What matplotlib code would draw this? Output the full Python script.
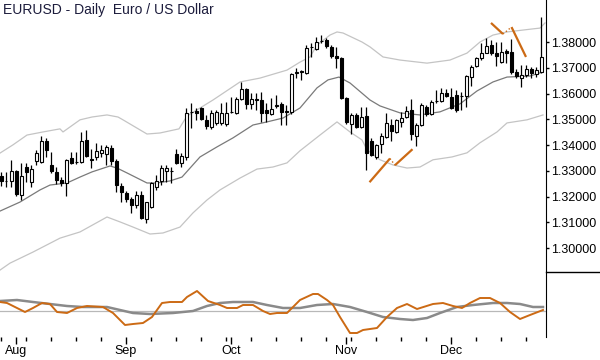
import numpy as np
import pandas as pd
import matplotlib.pyplot as plt
from matplotlib.lines import Line2D
from matplotlib.ticker import FormatStrFormatter

plt.rcParams['font.family'] = ['Liberation Sans', 'DejaVu Sans']

title = 'EURUSD - Daily  Euro / US Dollar'
# trading days shown (no bar for Christmas day)
dates = pd.bdate_range('2013-07-29', '2013-12-27').drop(pd.Timestamp('2013-12-25'))

opens = [1.3280, 1.3260, 1.3261, 1.3300, 1.3206, 1.3315, 1.3257, 1.3339, 1.3335, 1.3416,
         1.3323, 1.3296, 1.3264, 1.3253, 1.3350, 1.3333, 1.3335, 1.3420, 1.3346, 1.3354,
         1.3370, 1.3366, 1.3389, 1.3339, 1.3241, 1.3214, 1.3191, 1.3168, 1.3206, 1.3113,
         1.3160, 1.3237, 1.3261, 1.3300, 1.3298, 1.3366, 1.3331, 1.3354, 1.3527, 1.3532,
         1.3544, 1.3498, 1.3471, 1.3486, 1.3486, 1.3482, 1.3527, 1.3525, 1.3579, 1.3618,
         1.3560, 1.3577, 1.3575, 1.3536, 1.3521, 1.3552, 1.3560, 1.3532, 1.3529, 1.3680,
         1.3684, 1.3680, 1.3779, 1.3773, 1.3802, 1.3808, 1.3781, 1.3746, 1.3738, 1.3583,
         1.3482, 1.3517, 1.3471, 1.3513, 1.3416, 1.3354, 1.3405, 1.3432, 1.3478, 1.3451,
         1.3490, 1.3509, 1.3536, 1.3436, 1.3478, 1.3548, 1.3521, 1.3573, 1.3571, 1.3602,
         1.3587, 1.3594, 1.3589, 1.3591, 1.3664, 1.3707, 1.3738, 1.3757, 1.3788, 1.3757,
         1.3722, 1.3765, 1.3761, 1.3684, 1.3660, 1.3672, 1.3695, 1.3676, 1.3684]
highs = [1.3296, 1.3296, 1.3343, 1.3302, 1.3331, 1.3331, 1.3323, 1.3382, 1.3436, 1.3428,
         1.3374, 1.3315, 1.3276, 1.3345, 1.3374, 1.3374, 1.3451, 1.3459, 1.3385, 1.3409,
         1.3401, 1.3401, 1.3401, 1.3346, 1.3253, 1.3222, 1.3199, 1.3222, 1.3222, 1.3181,
         1.3257, 1.3284, 1.3323, 1.3323, 1.3315, 1.3385, 1.3370, 1.3544, 1.3563, 1.3544,
         1.3548, 1.3517, 1.3536, 1.3536, 1.3563, 1.3567, 1.3587, 1.3587, 1.3645, 1.3622,
         1.3602, 1.3602, 1.3606, 1.3563, 1.3583, 1.3594, 1.3567, 1.3556, 1.3680, 1.3699,
         1.3691, 1.3788, 1.3796, 1.3819, 1.3827, 1.3816, 1.3788, 1.3781, 1.3742, 1.3587,
         1.3525, 1.3525, 1.3548, 1.3548, 1.3428, 1.3405, 1.3447, 1.3525, 1.3501, 1.3501,
         1.3529, 1.3552, 1.3579, 1.3486, 1.3563, 1.3556, 1.3575, 1.3614, 1.3622, 1.3618,
         1.3622, 1.3614, 1.3606, 1.3672, 1.3711, 1.3742, 1.3796, 1.3816, 1.3808, 1.3800,
         1.3800, 1.3773, 1.3812, 1.3695, 1.3711, 1.3711, 1.3703, 1.3703, 1.3897]
lows = [1.3241, 1.3237, 1.3237, 1.3202, 1.3187, 1.3257, 1.3237, 1.3323, 1.3331, 1.3354,
        1.3292, 1.3249, 1.3241, 1.3202, 1.3327, 1.3327, 1.3331, 1.3354, 1.3311, 1.3343,
        1.3354, 1.3323, 1.3323, 1.3218, 1.3179, 1.3179, 1.3137, 1.3156, 1.3113, 1.3098,
        1.3156, 1.3226, 1.3245, 1.3257, 1.3253, 1.3327, 1.3315, 1.3343, 1.3467, 1.3498,
        1.3498, 1.3463, 1.3463, 1.3478, 1.3478, 1.3474, 1.3525, 1.3521, 1.3575, 1.3540,
        1.3540, 1.3536, 1.3490, 1.3490, 1.3517, 1.3544, 1.3478, 1.3478, 1.3521, 1.3660,
        1.3653, 1.3676, 1.3742, 1.3769, 1.3796, 1.3777, 1.3738, 1.3699, 1.3579, 1.3482,
        1.3443, 1.3467, 1.3467, 1.3303, 1.3358, 1.3346, 1.3370, 1.3428, 1.3416, 1.3447,
        1.3471, 1.3505, 1.3420, 1.3397, 1.3474, 1.3513, 1.3517, 1.3563, 1.3567, 1.3587,
        1.3540, 1.3529, 1.3536, 1.3548, 1.3629, 1.3703, 1.3730, 1.3757, 1.3749, 1.3707,
        1.3718, 1.3718, 1.3676, 1.3660, 1.3625, 1.3664, 1.3660, 1.3664, 1.3680]
closes = [1.3261, 1.3261, 1.3300, 1.3210, 1.3280, 1.3296, 1.3307, 1.3370, 1.3416, 1.3382,
          1.3300, 1.3264, 1.3253, 1.3343, 1.3331, 1.3335, 1.3416, 1.3358, 1.3343, 1.3378,
          1.3382, 1.3393, 1.3339, 1.3245, 1.3218, 1.3191, 1.3168, 1.3206, 1.3117, 1.3179,
          1.3253, 1.3261, 1.3311, 1.3311, 1.3300, 1.3331, 1.3358, 1.3525, 1.3529, 1.3525,
          1.3501, 1.3474, 1.3525, 1.3529, 1.3525, 1.3525, 1.3529, 1.3579, 1.3618, 1.3560,
          1.3579, 1.3575, 1.3525, 1.3525, 1.3540, 1.3556, 1.3529, 1.3527, 1.3676, 1.3682,
          1.3686, 1.3777, 1.3781, 1.3800, 1.3804, 1.3784, 1.3746, 1.3738, 1.3583, 1.3490,
          1.3517, 1.3471, 1.3509, 1.3370, 1.3362, 1.3401, 1.3436, 1.3486, 1.3455, 1.3498,
          1.3505, 1.3532, 1.3443, 1.3478, 1.3556, 1.3521, 1.3567, 1.3571, 1.3602, 1.3591,
          1.3544, 1.3536, 1.3591, 1.3668, 1.3703, 1.3738, 1.3757, 1.3784, 1.3757, 1.3746,
          1.3761, 1.3757, 1.3684, 1.3668, 1.3672, 1.3695, 1.3680, 1.3691, 1.3742]

# moving average and envelope bands (bar index, price)
ma_x = [-0.2, 3.8, 7.8, 9.8, 13.2, 15.8, 18.2, 21.8, 23.2, 25.2, 29.2, 31.2, 33.8, 36.2,
        39.8, 43.2, 46.4, 50.4, 53.2, 56.4, 59.8, 63.2, 65.4, 67.6, 69.8, 73.8, 75.8, 79.8,
        83.8, 87.8, 91.8, 95.2, 98.4, 101.2, 105.8, 108.4]
ma_y = [1.3144, 1.3179, 1.3226, 1.3245, 1.3253, 1.3276, 1.3296, 1.3319, 1.3311, 1.3292,
        1.3253, 1.3253, 1.3261, 1.3276, 1.3354, 1.3393, 1.3428, 1.3478, 1.3490, 1.3505,
        1.3544, 1.3622, 1.3653, 1.3664, 1.3641, 1.3575, 1.3552, 1.3525, 1.3517, 1.3529,
        1.3560, 1.3610, 1.3645, 1.3664, 1.3668, 1.3684]
up_x = [-0.2, 2.4, 5.2, 8.4, 11.8, 12.4, 15.8, 18.2, 21.2, 23.4, 24.4, 29.2, 31.8, 35.6,
        37.2, 42.4, 47.8, 51.8, 57.2, 59.8, 61.8, 63.2, 65.8, 67.2, 68.4, 72.2, 73.8, 76.4,
        79.8, 85.2, 89.8, 93.2, 95.8, 98.4, 101.2, 106.4, 107.8, 108.8]
up_y = [1.3369, 1.3401, 1.3439, 1.3451, 1.3463, 1.3451, 1.3498, 1.3509, 1.3517, 1.3509,
        1.3498, 1.3443, 1.3447, 1.3463, 1.3513, 1.3575, 1.3645, 1.3660, 1.3691, 1.3722,
        1.3742, 1.3788, 1.3827, 1.3839, 1.3835, 1.3800, 1.3781, 1.3742, 1.3730, 1.3718,
        1.3730, 1.3757, 1.3800, 1.3827, 1.3839, 1.3851, 1.3854, 1.3874]
lo_x = [-0.2, 1.8, 6.4, 11.8, 15.8, 21.2, 23.8, 26.4, 29.8, 32.4, 35.8, 38.4, 41.2, 43.8,
        47.8, 51.2, 54.4, 57.2, 59.8, 63.8, 67.2, 69.8, 72.2, 73.2, 75.8, 78.4, 81.2, 83.8,
        86.4, 90.2, 93.2, 95.8, 99.2, 101.2, 105.2, 108.4]
lo_y = [1.2915, 1.2942, 1.2985, 1.3039, 1.3063, 1.3121, 1.3102, 1.3082, 1.3055, 1.3059,
        1.3082, 1.3137, 1.3187, 1.3226, 1.3272, 1.3307, 1.3315, 1.3331, 1.3378, 1.3439,
        1.3490, 1.3451, 1.3420, 1.3382, 1.3343, 1.3323, 1.3311, 1.3315, 1.3343, 1.3354,
        1.3370, 1.3409, 1.3451, 1.3486, 1.3498, 1.3517]

# hand drawn trend lines (bar index, price)
trend_x = [[73.7, 77.8], [78.8, 82.3], [98.0, 100.4], [102.1, 105.0]]
trend_y = [[1.3256, 1.3348], [1.3322, 1.3384], [1.3874, 1.3831], [1.3858, 1.3742]]
link_x = [[77.8, 78.8], [100.4, 102.1]]
link_y = [[1.3348, 1.3322], [1.3831, 1.3858]]

# lower oscillator panel
fast_x = [-0.2, 1.2, 3.2, 4.8, 6.4, 8.2, 9.8, 11.2, 13.2, 15.2, 17.2, 20.4, 22.4, 24.8,
          26.4, 28.4, 30.2, 32.2, 33.8, 36.2, 37.2, 39.2, 41.4, 43.8, 45.2, 47.2, 48.4,
          50.4, 52.4, 53.8, 55.2, 57.2, 58.4, 59.8, 62.4, 63.4, 65.2, 66.4, 67.8, 69.8,
          71.2, 72.4, 75.2, 77.2, 79.2, 81.2, 83.2, 86.4, 88.4, 90.4, 92.2, 93.8, 95.8,
          97.8, 99.8, 101.8, 103.8, 105.8, 108.4]
fast_v = [9, 8, 3, -1, 3, 8, 7, -1, -2, 3, 5, 4, -2, -14, -13, -12, -6, 8, 9, 9, 14, 20,
          10, 6, 3, 3, 6, 6, 0, -3, -2, -2, 4, 11, 17, 17, 11, 6, -6, -22, -22, -19, -17,
          -6, 3, 7, 2, 7, 8, 5, 3, 8, 13, 13, 8, -1, -8, -4, 1]
slow_x = [-0.2, 3.2, 6.4, 9.8, 13.2, 16.4, 21.2, 23.8, 26.4, 29.8, 34.4, 38.4, 41.2, 43.8,
          46.4, 50.4, 53.2, 56.4, 59.8, 63.2, 66.4, 69.8, 73.2, 76.4, 79.8, 82.4, 85.2,
          87.8, 91.2, 94.4, 98.4, 101.2, 103.8, 106.4, 108.4]
slow_v = [10, 11, 9, 7, 5, 4, 4, 1, -2, -3, -2, 0, 5, 8, 9, 9, 6, 3, 3, 6, 7, 4, -1, -6,
          -8, -9, -7, -2, 4, 6, 8, 8, 7, 4, 4]

orange = '#cc6a14'

fig = plt.figure(figsize=(6, 3.6), dpi=100)
ax = fig.add_axes([0, 1 - 272 / 360, 546 / 600, 272 / 360])
ax2 = fig.add_axes([0, 1 - 337 / 360, 546 / 600, 65 / 360], sharex=ax)

x = np.arange(len(opens))
o = np.array(opens)
c = np.array(closes)
ax.plot(up_x, up_y, color='#c4c4c4', lw=0.9, zorder=1)
ax.plot(lo_x, lo_y, color='#c4c4c4', lw=0.9, zorder=1)
ax.plot(ma_x, ma_y, color='#7a7a7a', lw=0.9, zorder=2)
ax.vlines(x, lows, highs, color='black', lw=0.9, zorder=3)
body_col = ['white' if cc >= oo else 'black' for oo, cc in zip(o, c)]
ax.bar(x, np.abs(c - o), bottom=np.minimum(o, c), width=0.6, color=body_col,
       edgecolor='black', lw=0.8, zorder=4)
for tx, ty in zip(trend_x, trend_y):
    ax.plot(tx, ty, color=orange, lw=1.6, solid_capstyle='butt', zorder=5)
for lx, ly in zip(link_x, link_y):
    ax.plot(lx, ly, color=orange, lw=1.0, ls=':', zorder=5)

ax.set_xlim(-0.2, 109.0)
ax.set_ylim(1.29076, 1.39630)
ax.yaxis.tick_right()
ax.set_yticks(np.arange(1.30, 1.3801, 0.01))
ax.yaxis.set_major_formatter(FormatStrFormatter('%.5f'))
ax.tick_params(axis='y', length=2.5, width=1, pad=1.5, labelsize=9)
ax.tick_params(axis='x', bottom=False, labelbottom=False)
for s in ['top', 'left', 'bottom']:
    ax.spines[s].set_visible(False)

ax2.axhline(0, color='#b8b8b8', lw=0.9, zorder=1)
ax2.plot(slow_x, slow_v, color='#8a8a8a', lw=1.8, zorder=2)
ax2.plot(fast_x, fast_v, color=orange, lw=1.4, zorder=3)
ax2.set_ylim(-26, 39)
ax2.set_yticks([])
for s in ['top', 'left', 'bottom']:
    ax2.spines[s].set_visible(False)

month_idx = [i for i in range(1, len(dates)) if dates[i].month != dates[i - 1].month]
monday_idx = [i for i in range(len(dates)) if dates[i].weekday() == 0]
ax2.set_xticks(month_idx)
ax2.set_xticklabels([dates[i].strftime('%b') for i in month_idx])
ax2.set_xticks(monday_idx, minor=True)
ax2.tick_params(axis='x', which='major', length=5, width=1, pad=1, labelsize=9)
ax2.tick_params(axis='x', which='minor', length=3, width=1)

fig.add_artist(Line2D([546 / 600, 1], [1 - 272 / 360] * 2, color='black', lw=1,
                      transform=fig.transFigure))
fig.text(3 / 600, 1 - 3 / 360, title, ha='left', va='top', fontsize=10, color='#1c1c3c')

fig.savefig('out.png', dpi=100)
